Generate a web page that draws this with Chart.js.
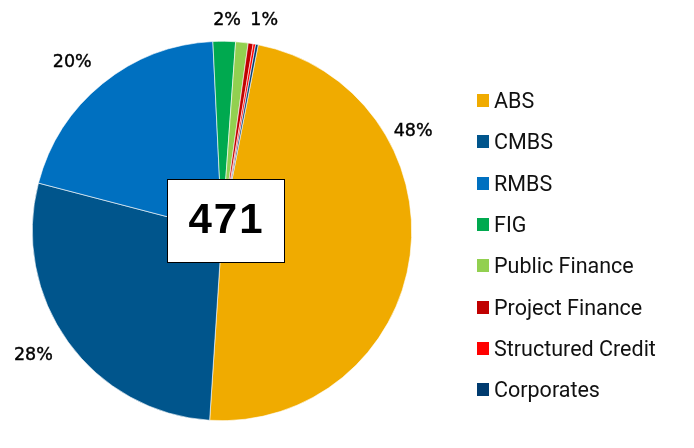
<!DOCTYPE html>
<html>
<head>
<meta charset="utf-8">
<script src="https://cdn.jsdelivr.net/npm/chart.js@4.4.1/dist/chart.umd.min.js"></script>
<style>
  body { margin: 0; background: #fff; font-family: Roboto, "Noto Sans", sans-serif; }
  #wrap { position: relative; width: 694px; height: 448px; }
  #legend { position: absolute; left: 477px; top: 80px; }
  .item { display: flex; align-items: center; height: 41.3px; font-size: 21.5px; color: #111; }
  .box { width: 12px; height: 13px; margin-right: 5px; display: inline-block; }
</style>
</head>
<body>
<div id="wrap">
  <canvas id="chart" width="694" height="448"></canvas>
  <div id="legend"></div>
</div>
<script>
const categories = ["ABS", "CMBS", "RMBS", "FIG", "Public Finance", "Project Finance", "Structured Credit", "Corporates"];
const counts = [226, 132, 95, 9, 5, 2, 1, 1];
const colors = ["#F0AB00", "#00558C", "#0070C0", "#00A94F", "#92D050", "#C00000", "#FF0000", "#003B6F"];
const shownLabels = ["48%", "28%", "20%", "2%", "1%", "", "", ""];
// label placement tweaks to mimic the original: angle shift (deg) from slice middle, distance past the rim
const labelShift = [-35, 2.5, -2.5, 0.7, 5.3, 0, 0, 0];
const labelGap = [26, 36, 36, 21, 25, 0, 0, 0];
const total = 471;

const pieLabels = {
  id: "pieLabels",
  afterDatasetsDraw(chart) {
    const ctx = chart.ctx;
    const meta = chart.getDatasetMeta(0);
    ctx.save();
    ctx.font = "17.5px 'DejaVu Sans', sans-serif";
    ctx.fillStyle = "#000";
    ctx.strokeStyle = "#000";
    ctx.lineWidth = 0.4;
    ctx.textAlign = "center";
    ctx.textBaseline = "middle";
    meta.data.forEach((arc, i) => {
      if (!shownLabels[i]) return;
      const mid = (arc.startAngle + arc.endAngle) / 2 + labelShift[i] * Math.PI / 180;
      const r = arc.outerRadius + labelGap[i];
      const x = arc.x + Math.cos(mid) * r, y = arc.y + Math.sin(mid) * r;
      ctx.fillText(shownLabels[i], x, y);
      ctx.strokeText(shownLabels[i], x, y);
    });
    ctx.restore();
  }
};

const centerBox = {
  id: "centerBox",
  afterDraw(chart) {
    const ctx = chart.ctx;
    const meta = chart.getDatasetMeta(0);
    const cx = meta.data[0].x + 3.5, cy = meta.data[0].y - 10.5;
    const w = 117, h = 83;
    ctx.save();
    ctx.fillStyle = "#fff";
    ctx.fillRect(cx - w / 2, cy - h / 2, w, h);
    ctx.strokeStyle = "#000";
    ctx.lineWidth = 1;
    ctx.strokeRect(Math.round(cx - w / 2) + 0.5, Math.round(cy - h / 2) + 0.5, w, h);
    ctx.fillStyle = "#000";
    ctx.font = "bold 42px 'Liberation Sans', Arial, sans-serif";
    ctx.letterSpacing = "2px";
    ctx.textAlign = "center";
    ctx.textBaseline = "middle";
    ctx.fillText(String(total), cx + 1, cy + 1);
    ctx.restore();
  }
};

const chart = new Chart(document.getElementById("chart").getContext("2d"), {
  type: "pie",
  data: {
    labels: categories,
    datasets: [{
      data: counts,
      backgroundColor: colors,
      borderColor: "#fff",
      borderWidth: 0.6
    }]
  },
  options: {
    responsive: false,
    animation: false,
    rotation: 11,
    layout: { padding: { left: 32, right: 282, top: 41, bottom: 27 } },
    plugins: {
      legend: { display: false },
      tooltip: { enabled: false }
    }
  },
  plugins: [pieLabels, centerBox]
});

// custom legend
const legendEl = document.getElementById("legend");
chart.options.plugins.legend.labels.generateLabels(chart).forEach((l) => {
  const row = document.createElement("div");
  row.className = "item";
  const sw = document.createElement("span");
  sw.className = "box";
  sw.style.backgroundColor = l.fillStyle;
  const txt = document.createElement("span");
  txt.textContent = l.text;
  row.appendChild(sw);
  row.appendChild(txt);
  legendEl.appendChild(row);
});
</script>
</body>
</html>
